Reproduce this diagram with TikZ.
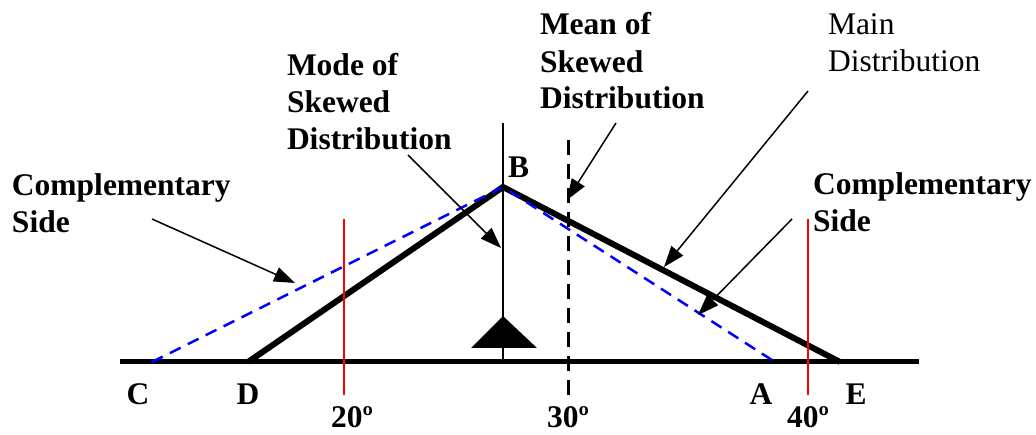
\documentclass[tikz,border=0pt]{standalone}
\usepackage{fontspec}
\setmainfont{Liberation Serif}
\usetikzlibrary{arrows.meta}
\begin{document}
\begin{tikzpicture}[x=1pt,y=-1pt,
  lbl/.style={inner sep=0pt,outer sep=0pt,font=\fontsize{31.5}{37}\selectfont\bfseries},
  lblr/.style={inner sep=0pt,outer sep=0pt,font=\fontsize{31.5}{37}\selectfont},
  deg/.style={lbl,text depth=0pt,anchor=base},
  thickline/.style={line width=6pt,line join=miter,black},
  baseline/.style={line width=5pt,black},
  bluedash/.style={line width=2.5pt,blue,dash pattern=on 12pt off 8pt},
  blackdash/.style={line width=3pt,black,dash pattern=on 15pt off 9pt},
  redline/.style={line width=2pt,red},
  pointer/.style={line width=1.5pt,black,-{Triangle[length=21pt,width=15pt]}}]
\useasboundingbox (0,0) rectangle (1036,435);
% key points
\coordinate (L) at (120,362);
\coordinate (R) at (919,362);
\coordinate (C) at (152,362);
\coordinate (D) at (248,362);
\coordinate (B) at (503,187);
\coordinate (E) at (840,362);
\coordinate (A) at (775,362);
\coordinate (vt) at (503,123);
\coordinate (vb) at (503,362);
\coordinate (mt) at (568,140);
\coordinate (mb) at (568,398);
\coordinate (r1t) at (344,219);
\coordinate (r1b) at (344,395);
\coordinate (r2t) at (808,219);
\coordinate (r2b) at (808,395);
\coordinate (ta) at (503,316);
\coordinate (tl) at (471,348);
\coordinate (tr) at (537,348);
% base line and main distribution
\draw[baseline] (L) -- (R);
\draw[thickline] (D) -- (B) -- (E);
\draw[bluedash] (C) -- (B) -- (A);
\draw[line width=2pt] (vt) -- (vb);
\fill (ta) -- (tl) -- (tr) -- cycle;
\draw[blackdash] (mt) -- (mb);
\draw[redline] (r1t) -- (r1b);
\draw[redline] (r2t) -- (r2b);
% labels
\node[lbl,anchor=base west] (cl1) at (12,196) {Complementary};
\node[lbl,anchor=base west] (cl2) at (12,233) {Side};
\node[lbl,anchor=base west] (mo1) at (287,76) {Mode of};
\node[lbl,anchor=base west] (mo2) at (287,113) {Skewed};
\node[lbl,anchor=base west] (mo3) at (287,150) {Distribution};
\node[lbl,anchor=base west] (me1) at (540,35) {Mean of};
\node[lbl,anchor=base west] (me2) at (540,73) {Skewed};
\node[lbl,anchor=base west] (me3) at (540,109) {Distribution};
\node[lblr,anchor=base west] (ma1) at (828,35) {Main};
\node[lblr,anchor=base west] (ma2) at (828,72) {Distribution};
\node[lbl,anchor=base west] (cr1) at (813,195) {Complementary};
\node[lbl,anchor=base west] (cr2) at (813,232) {Side};
\node[lbl,anchor=base west] (lB) at (508,178) {B};
\node[lbl,anchor=base] (lC) at (138,405) {C};
\node[lbl,anchor=base] (lD) at (248,405) {D};
\node[lbl,anchor=base] (lA) at (761,405) {A};
\node[lbl,anchor=base] (lE) at (856,405) {E};
\node[deg] (d20) at (352,428) {20º};
\node[deg] (d30) at (568,428) {30º};
\node[deg] (d40) at (808,428) {40º};
% pointer arrows
\coordinate (p1s) at (152,219); \coordinate (p1e) at (295,283);
\coordinate (p2s) at (408,155); \coordinate (p2e) at (501,248);
\coordinate (p3s) at (616,123); \coordinate (p3e) at (567,200);
\coordinate (p4s) at (808,91);  \coordinate (p4e) at (664,267);
\coordinate (p5s) at (792,219); \coordinate (p5e) at (698,315);
\draw[pointer] (p1s) -- (p1e);
\draw[pointer] (p2s) -- (p2e);
\draw[pointer] (p3s) -- (p3e);
\draw[pointer] (p4s) -- (p4e);
\draw[pointer] (p5s) -- (p5e);
\end{tikzpicture}
\end{document}
